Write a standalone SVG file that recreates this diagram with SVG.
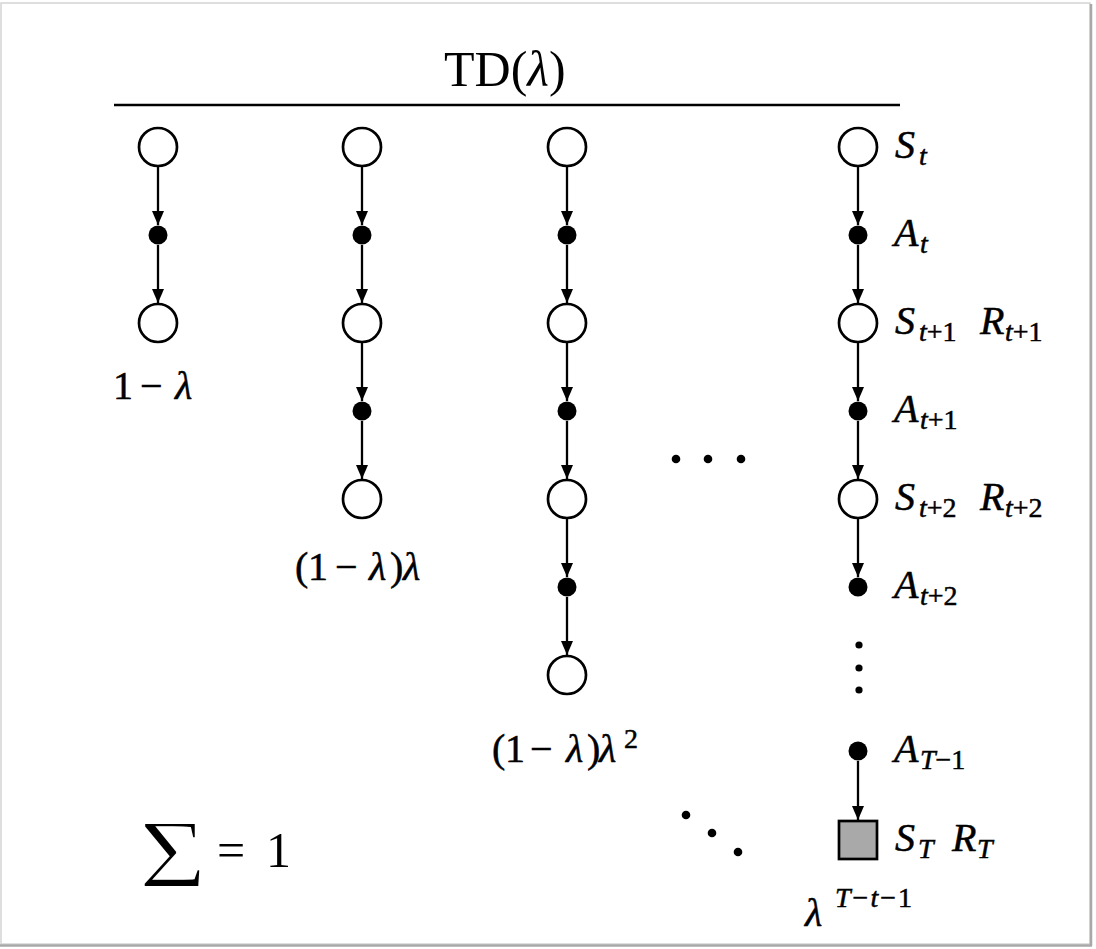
<svg xmlns="http://www.w3.org/2000/svg" width="1096" height="949" viewBox="0 0 1096 949">
<style>
.st{fill:#fff;stroke:#000;stroke-width:2.7}
.ac{fill:#000}
.sq{fill:#a9a9a9;stroke:#000;stroke-width:2.7}
.e{stroke:#000;stroke-width:2.3;fill:none;marker-end:url(#ah)}
.m{font-family:"Liberation Serif","Times New Roman",serif;fill:#000}
.w{stroke:#000;stroke-width:0.5}
.i{font-style:italic}
.lb{font-size:40px}
.rl{font-size:40px}
.sb{font-size:28px}
</style>
<defs>
<marker id="ah" markerUnits="userSpaceOnUse" markerWidth="15" markerHeight="13" refX="14" refY="6.5" orient="auto">
<path d="M0,0.5 L14,6.5 L0,12.5 z" fill="#000"/>
</marker>
</defs>
<rect x="0" y="0" width="1096" height="949" fill="#fff"/>
<g id="page">
<rect x="1" y="3" width="1089" height="941" fill="none" stroke="#d4d4d4" stroke-width="1.5"/>
<line x1="1091" y1="4" x2="1091" y2="946" stroke="#a8a8a8" stroke-width="2.5"/>
<line x1="0" y1="945.5" x2="1092" y2="945.5" stroke="#a8a8a8" stroke-width="2.5"/>
</g>
<g id="title">
<text class="m" font-size="50" y="86"><tspan x="444">TD(</tspan><tspan class="i">λ</tspan><tspan>)</tspan></text>
<line x1="114" y1="105" x2="900" y2="105" stroke="#000" stroke-width="2.6"/>
</g>
<g id="connectors">
<line class="e" x1="158" y1="167" x2="158" y2="225"/>
<line class="e" x1="158" y1="245" x2="158" y2="303"/>
<line class="e" x1="362" y1="167" x2="362" y2="225"/>
<line class="e" x1="362" y1="245" x2="362" y2="303"/>
<line class="e" x1="362" y1="343" x2="362" y2="401"/>
<line class="e" x1="362" y1="421" x2="362" y2="479"/>
<line class="e" x1="567" y1="167" x2="567" y2="225"/>
<line class="e" x1="567" y1="245" x2="567" y2="303"/>
<line class="e" x1="567" y1="343" x2="567" y2="401"/>
<line class="e" x1="567" y1="421" x2="567" y2="479"/>
<line class="e" x1="567" y1="519" x2="567" y2="577"/>
<line class="e" x1="567" y1="597" x2="567" y2="655"/>
<line class="e" x1="858" y1="167" x2="858" y2="225"/>
<line class="e" x1="858" y1="245" x2="858" y2="303"/>
<line class="e" x1="858" y1="343" x2="858" y2="401"/>
<line class="e" x1="858" y1="421" x2="858" y2="479"/>
<line class="e" x1="858" y1="519" x2="858" y2="577"/>
<line class="e" x1="858" y1="761" x2="858" y2="820"/>
</g>
<g id="col1">
<circle class="st" cx="158" cy="147" r="19"/>
<circle class="ac" cx="158" cy="235" r="9.5"/>
<circle class="st" cx="158" cy="323" r="19"/>
<text class="m w lb" y="399"><tspan x="113">1</tspan><tspan x="140">−</tspan><tspan x="175" class="i">λ</tspan></text>
</g>
<g id="col2">
<circle class="st" cx="362" cy="147" r="19"/>
<circle class="ac" cx="362" cy="235" r="9.5"/>
<circle class="st" cx="362" cy="323" r="19"/>
<circle class="ac" cx="362" cy="411" r="9.5"/>
<circle class="st" cx="362" cy="499" r="19"/>
<text class="m w lb" y="580"><tspan x="295">(</tspan><tspan x="308">1</tspan><tspan x="335">−</tspan><tspan x="369" class="i">λ</tspan><tspan x="390">)</tspan><tspan x="403" class="i">λ</tspan></text>
</g>
<g id="col3">
<circle class="st" cx="567" cy="147" r="19"/>
<circle class="ac" cx="567" cy="235" r="9.5"/>
<circle class="st" cx="567" cy="323" r="19"/>
<circle class="ac" cx="567" cy="411" r="9.5"/>
<circle class="st" cx="567" cy="499" r="19"/>
<circle class="ac" cx="567" cy="587" r="9.5"/>
<circle class="st" cx="567" cy="675" r="19"/>
<text class="m w lb" y="762"><tspan x="492">(</tspan><tspan x="505">1</tspan><tspan x="530">−</tspan><tspan x="566" class="i">λ</tspan><tspan x="587">)</tspan><tspan x="599" class="i">λ</tspan><tspan x="624" y="748" class="sb">2</tspan></text>
</g>
<g id="hdots">
<circle class="ac" cx="676" cy="459" r="4.3"/>
<circle class="ac" cx="708" cy="459" r="4.3"/>
<circle class="ac" cx="741" cy="459" r="4.3"/>
</g>
<g id="ddots">
<circle class="ac" cx="686" cy="815" r="4.3"/>
<circle class="ac" cx="712" cy="833" r="4.3"/>
<circle class="ac" cx="738" cy="852" r="4.3"/>
</g>
<g id="col4">
<circle class="st" cx="858" cy="147" r="19"/>
<circle class="ac" cx="858" cy="235" r="9.5"/>
<circle class="st" cx="858" cy="323" r="19"/>
<circle class="ac" cx="858" cy="411" r="9.5"/>
<circle class="st" cx="858" cy="499" r="19"/>
<circle class="ac" cx="858" cy="587" r="9.5"/>
<circle class="ac" cx="859" cy="645" r="3.6"/>
<circle class="ac" cx="859" cy="668" r="3.6"/>
<circle class="ac" cx="859" cy="690" r="3.6"/>
<circle class="ac" cx="858" cy="751" r="9.5"/>
<rect class="sq" x="839" y="821" width="38" height="38"/>
<text class="m w" y="926"><tspan x="805" class="i lb">λ</tspan><tspan x="835" y="907" class="sb" letter-spacing="2"><tspan class="i">T</tspan>−<tspan class="i">t</tspan>−1</tspan></text>
</g>
<g id="labels" class="m w rl">
<text y="158"><tspan x="895" class="i">S</tspan><tspan x="919" y="165" class="sb i">t</tspan></text>
<text y="246"><tspan x="894" class="i">A</tspan><tspan x="920" y="253" class="sb i">t</tspan></text>
<text y="334"><tspan x="895" class="i">S</tspan><tspan x="919" y="341" class="sb"><tspan class="i">t</tspan>+1</tspan><tspan x="980" y="334" class="i">R</tspan><tspan x="1005" y="341" class="sb"><tspan class="i">t</tspan>+1</tspan></text>
<text y="422"><tspan x="894" class="i">A</tspan><tspan x="920" y="429" class="sb"><tspan class="i">t</tspan>+1</tspan></text>
<text y="510"><tspan x="895" class="i">S</tspan><tspan x="919" y="517" class="sb"><tspan class="i">t</tspan>+2</tspan><tspan x="980" y="510" class="i">R</tspan><tspan x="1005" y="517" class="sb"><tspan class="i">t</tspan>+2</tspan></text>
<text y="598"><tspan x="894" class="i">A</tspan><tspan x="920" y="605" class="sb"><tspan class="i">t</tspan>+2</tspan></text>
<text y="762"><tspan x="894" class="i">A</tspan><tspan x="920" y="769" class="sb"><tspan class="i">T</tspan>−1</tspan></text>
<text y="851"><tspan x="895" class="i">S</tspan><tspan x="918" y="858" class="sb i">T</tspan><tspan x="952" y="851" class="i">R</tspan><tspan x="977" y="858" class="sb i">T</tspan></text>
</g>
<g id="sum">
<text class="m" font-size="98" stroke="#fff" stroke-width="2" transform="translate(139,887) scale(1.18,1)"><tspan x="0" y="0">Σ</tspan></text>
<text class="m" y="867" font-size="50"><tspan x="217">=</tspan><tspan x="266">1</tspan></text>
</g>
</svg>
